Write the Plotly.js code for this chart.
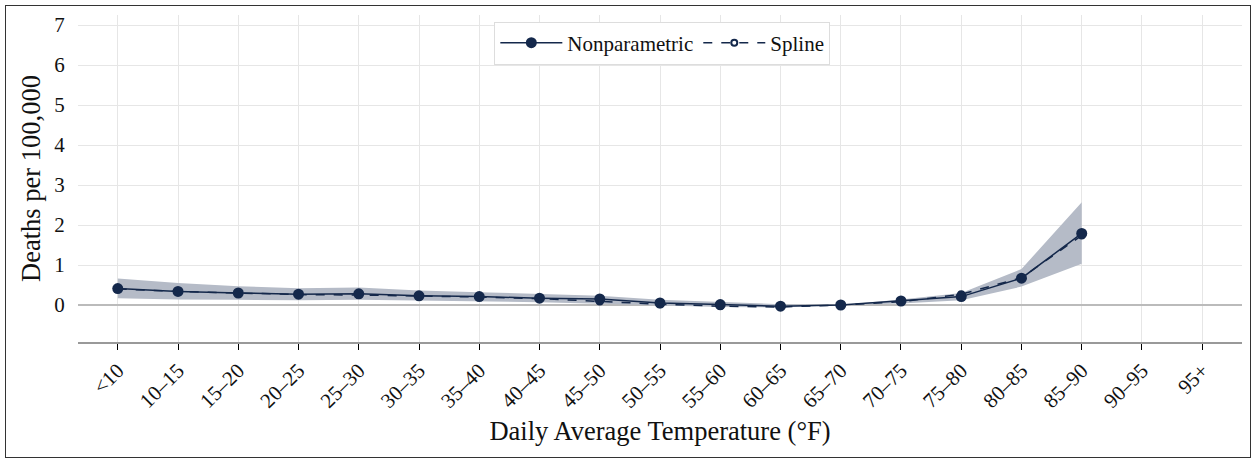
<!DOCTYPE html>
<html>
<head>
<meta charset="utf-8">
<script src="https://cdn.plot.ly/plotly-3.0.1.min.js"></script>
<style>
html,body{margin:0;padding:0;background:#fff;}
#chart{width:1255px;height:460px;}
#frame{position:absolute;left:5px;top:5px;width:1244px;height:451px;border:1px solid #333;pointer-events:none;}
</style>
</head>
<body>
<div id="chart"></div>
<div id="frame"></div>
<script>
const categories = ["<10","10–15","15–20","20–25","25–30","30–35","35–40","40–45","45–50","50–55","55–60","60–65","65–70","70–75","75–80","80–85","85–90","90–95","95+"];
const dataCats = categories.slice(0, 17);
const nonparametric = [0.41, 0.34, 0.30, 0.27, 0.28, 0.23, 0.21, 0.17, 0.15, 0.05, 0.01, -0.03, 0, 0.10, 0.21, 0.67, 1.79];
const spline = [0.40, 0.34, 0.30, 0.26, 0.25, 0.23, 0.20, 0.16, 0.09, 0.02, -0.03, -0.05, 0, 0.08, 0.27, 0.68, 1.74];
const ciUpper = [0.66, 0.55, 0.47, 0.42, 0.44, 0.36, 0.32, 0.27, 0.23, 0.13, 0.07, 0.02, 0, 0.14, 0.30, 0.90, 2.57];
const ciLower = [0.17, 0.14, 0.13, 0.12, 0.13, 0.11, 0.10, 0.07, 0.03, -0.01, -0.05, -0.06, 0, 0.04, 0.12, 0.46, 1.03];
const yTicks = [0,1,2,3,4,5,6,7];

const navy = '#14284b';
const traces = [
  {x: dataCats, y: ciLower, type:'scatter', mode:'lines', line:{width:0, color:'rgba(0,0,0,0)'}, showlegend:false, hoverinfo:'skip'},
  {x: dataCats, y: ciUpper, type:'scatter', mode:'lines', line:{width:0, color:'rgba(0,0,0,0)'}, fill:'tonexty', fillcolor:'#b5bbc7', showlegend:false, hoverinfo:'skip'},
  {x: dataCats, y: spline, type:'scatter', mode:'lines+markers', name:'Spline', legendrank:2,
   line:{color:navy, width:1.5, dash:'dash'}, marker:{color:'#ffffff', size:6, line:{color:navy, width:2}}},
  {x: dataCats, y: nonparametric, type:'scatter', mode:'lines+markers', name:'Nonparametric', legendrank:1,
   line:{color:navy, width:1.5}, marker:{color:navy, size:11}}
];

const layout = {
  width:1255, height:460,
  margin:{l:78, r:13, t:15, b:118},
  paper_bgcolor:'#ffffff', plot_bgcolor:'#ffffff',
  font:{family:'"Liberation Serif", "Times New Roman", serif', size:21, color:'#111'},
  showlegend:true,
  legend:{orientation:'h', traceorder:'normal', x:0.502, xanchor:'center', y:0.98, yanchor:'top',
          itemwidth:62,
          bgcolor:'#ffffff', bordercolor:'#dddddd', borderwidth:1, font:{size:21}},
  xaxis:{type:'category', categoryorder:'array', categoryarray:categories,
         tickvals:categories, ticktext:categories,
         range:[-0.66, 18.66], tickangle:-45,
         showgrid:true, gridcolor:'#e6e6e6', gridwidth:1,
         showline:true, linecolor:'#999999', linewidth:2,
         ticks:'outside', ticklen:6, tickcolor:'#000', tickwidth:1,
         tickfont:{size:21},
         title:{text:'Daily Average Temperature (°F)', font:{size:26.5}, standoff:10}},
  yaxis:{range:[-0.925, 7.25], tickvals:yTicks, ticktext:yTicks.map(String),
         showgrid:true, gridcolor:'#e6e6e6', gridwidth:1,
         zeroline:true, zerolinecolor:'#bbbbbb', zerolinewidth:2,
         showline:false, ticks:'outside', ticklen:8, tickcolor:'rgba(0,0,0,0)', tickfont:{size:21},
         automargin:true,
         title:{text:'Deaths per 100,000', font:{size:26.5}, standoff:6}}
};

Plotly.newPlot('chart', traces, layout, {displayModeBar:false, staticPlot:true});
</script>
</body>
</html>
